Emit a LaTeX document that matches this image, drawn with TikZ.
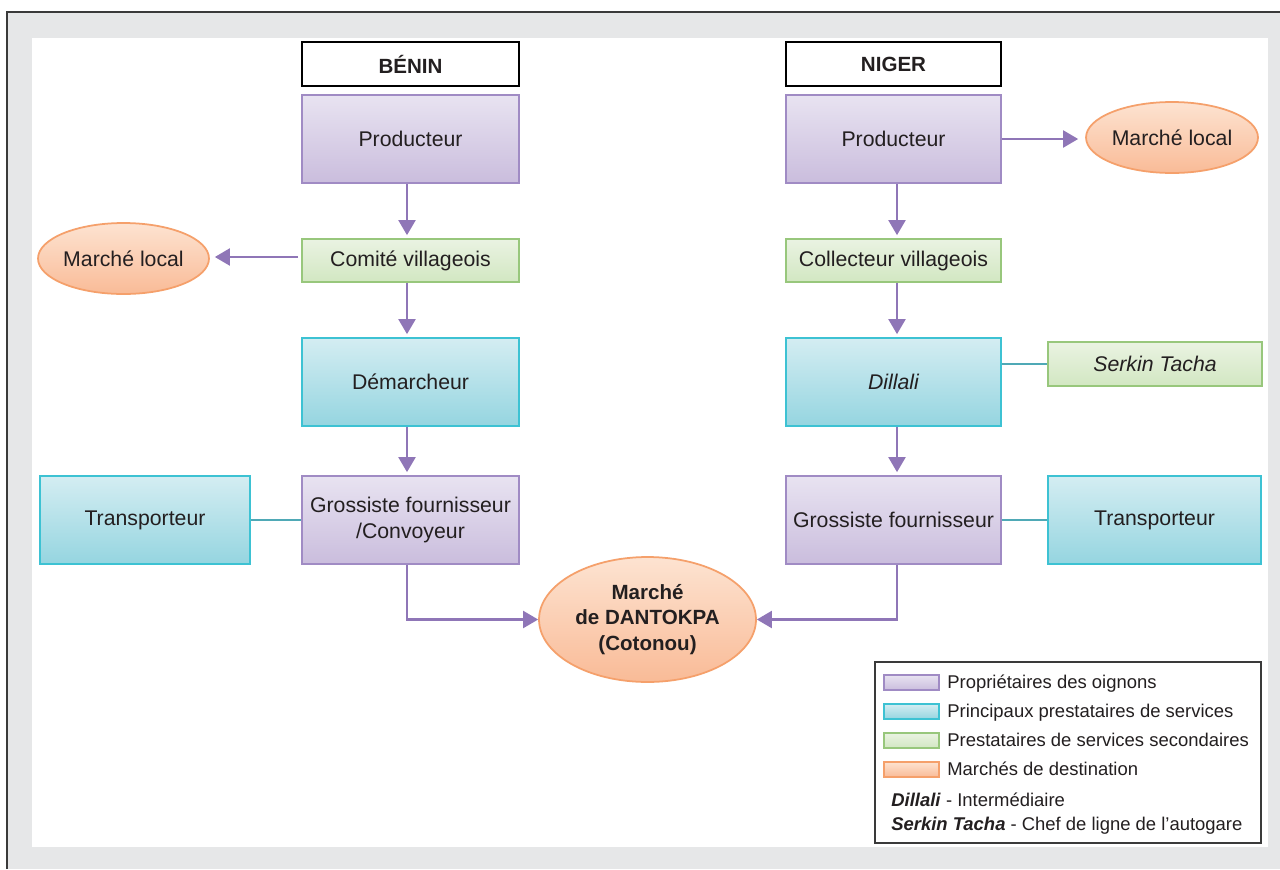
\documentclass[tikz,border=0pt]{standalone}
\usepackage{fontspec}
\setmainfont{Liberation Sans}
\usetikzlibrary{arrows.meta,shapes.geometric,calc}

\definecolor{frameC}{HTML}{3A3A3A}
\definecolor{bggray}{HTML}{E6E7E8}
\definecolor{txt}{HTML}{231F20}
\definecolor{pTop}{HTML}{E8E3F1}
\definecolor{pBot}{HTML}{CABDDD}
\definecolor{pLine}{HTML}{A08BC4}
\definecolor{arrC}{HTML}{8F76B7}
\definecolor{cTop}{HTML}{D4EDF2}
\definecolor{cBot}{HTML}{95D5E0}
\definecolor{cLine}{HTML}{3DC2D3}
\definecolor{tealC}{HTML}{4FA9B6}
\definecolor{gTop}{HTML}{EAF3E2}
\definecolor{gBot}{HTML}{D2E7C2}
\definecolor{gLine}{HTML}{98C77C}
\definecolor{oTop}{HTML}{FDE3D1}
\definecolor{oBot}{HTML}{F9BB97}
\definecolor{oLine}{HTML}{F5A06B}

\begin{document}
\begin{tikzpicture}[x=0.02cm,y=-0.02cm,
  box/.style={draw, line width=1pt, inner sep=0pt, align=center, text=txt,
    font=\fontsize{12.1}{15.3}\selectfont},
  hdr/.style={box, draw=black, fill=white, line width=1pt,
    font=\fontsize{11.7}{14}\selectfont\bfseries},
  own/.style={box, draw=pLine, top color=pTop, bottom color=pBot},
  mainsvc/.style={box, draw=cLine, top color=cTop, bottom color=cBot},
  secsvc/.style={box, draw=gLine, top color=gTop, bottom color=gBot},
  mkt/.style={box, ellipse, draw=oLine, top color=oTop, bottom color=oBot},
  flow/.style={draw=arrC, line width=1.2pt, -{Triangle[width=0.34cm,length=0.3cm]}},
  link/.style={draw=tealC, line width=1.2pt},
  swatch/.style={draw, line width=1pt, inner sep=0pt, minimum width=1.1cm, minimum height=0.3cm},
  legtext/.style={anchor=base west, inner sep=0pt, text=txt, font=\fontsize{10.5}{12.6}\selectfont}
]
\useasboundingbox (0,0) rectangle (1280,869);
% frame
\fill[bggray] (7,12) rectangle (1280,869);
\draw[frameC, line width=0.7pt] (7,869) -- (7,12) -- (1280,12);
\fill[white] (32,38) rectangle (1268,847);

% Benin column
\node[hdr, minimum width=4.34cm, minimum height=0.88cm] (hB) at (410.5,64) {BÉNIN};
\node[own, minimum width=4.34cm, minimum height=1.76cm] (prodB) at (410.5,139) {Producteur};
\node[secsvc, minimum width=4.34cm, minimum height=0.86cm] (comB) at (410.5,260.5) {Comité villageois};
\node[mainsvc, minimum width=4.34cm, minimum height=1.76cm] (demB) at (410.5,382) {Démarcheur};
\node[own, minimum width=4.34cm, minimum height=1.76cm] (grossB) at (410.5,520) {Grossiste fournisseur\\/Convoyeur};
\node[mainsvc, minimum width=4.2cm, minimum height=1.76cm] (transB) at (145,520) {Transporteur};
\node[mkt, minimum width=3.42cm, minimum height=1.42cm] (mlB) at (123.5,258.5) {Marché local};

% Niger column
\node[hdr, minimum width=4.3cm, minimum height=0.88cm] (hN) at (893.5,64) {NIGER};
\node[own, minimum width=4.3cm, minimum height=1.76cm] (prodN) at (893.5,139) {Producteur};
\node[secsvc, minimum width=4.3cm, minimum height=0.86cm] (colN) at (893.5,260.5) {Collecteur villageois};
\node[mainsvc, minimum width=4.3cm, minimum height=1.76cm] (dilN) at (893.5,382) {\itshape Dillali};
\node[own, minimum width=4.3cm, minimum height=1.76cm] (grossN) at (893.5,520) {Grossiste fournisseur};
\node[mainsvc, minimum width=4.26cm, minimum height=1.76cm] (transN) at (1154.5,520) {Transporteur};
\node[secsvc, minimum width=4.28cm, minimum height=0.88cm] (serk) at (1155,364) {\itshape Serkin Tacha};
\node[mkt, minimum width=3.44cm, minimum height=1.42cm] (mlN) at (1172,137.5) {Marché local};

% destination
\node[mkt, minimum width=4.34cm, minimum height=2.5cm,
  font=\fontsize{11.7}{14.7}\selectfont\bfseries] (dan) at (647.5,619.5) {Marché\\de DANTOKPA\\(Cotonou)};

% guide coordinates
\coordinate (xb) at (407,0);
\coordinate (xn) at (897,0);
\coordinate (yl) at (0,257);

% flows Benin
\draw[flow, shorten >=0.06cm] (prodB.south -| xb) -- (comB.north -| xb);
\draw[flow, shorten >=0.06cm] (comB.south -| xb) -- (demB.north -| xb);
\draw[flow, shorten >=0.06cm] (demB.south -| xb) -- (grossB.north -| xb);
\draw[flow, shorten <=0.06cm, shorten >=0.1cm] (comB.west |- yl) -- (mlB.east |- yl);
\draw[flow] (grossB.south -| xb) |- (dan.west);

% flows Niger
\draw[flow, shorten >=0.06cm] (prodN.south -| xn) -- (colN.north -| xn);
\draw[flow, shorten >=0.06cm] (colN.south -| xn) -- (dilN.north -| xn);
\draw[flow, shorten >=0.06cm] (dilN.south -| xn) -- (grossN.north -| xn);
\draw[flow, shorten >=0.14cm] (prodN.east) -- (mlN.west |- prodN.east);
\draw[flow] (grossN.south -| xn) |- (dan.east);

% service links
\draw[link] (transB.east) -- (grossB.west);
\draw[link] (grossN.east) -- (transN.west);
\draw[link] (dilN.east |- serk.west) -- (serk.west);

% legend
\node[draw=frameC, fill=white, line width=0.8pt, minimum width=7.72cm, minimum height=3.62cm, inner sep=0pt] (leg) at (1068,752.5) {};
\node[swatch, draw=pLine, top color=pTop, bottom color=pBot] (s1) at (911.5,682.5) {};
\node[swatch, draw=cLine, top color=cTop, bottom color=cBot] (s2) at (911.5,711.5) {};
\node[swatch, draw=gLine, top color=gTop, bottom color=gBot] (s3) at (911.5,740.5) {};
\node[swatch, draw=oLine, top color=oTop, bottom color=oBot] (s4) at (911.5,769.5) {};
\node[legtext] (t1) at (947,688) {Propriétaires des oignons};
\node[legtext] (t2) at (947,717) {Principaux prestataires de services};
\node[legtext] (t3) at (947,746) {Prestataires de services secondaires};
\node[legtext] (t4) at (947,775.5) {Marchés de destination};
\node[legtext] (t5) at (891,806.5) {\textbf{\textit{Dillali}} - Intermédiaire};
\node[legtext] (t6) at (891,830) {\textbf{\textit{Serkin Tacha}} - Chef de ligne de l’autogare};
\end{tikzpicture}
\end{document}
